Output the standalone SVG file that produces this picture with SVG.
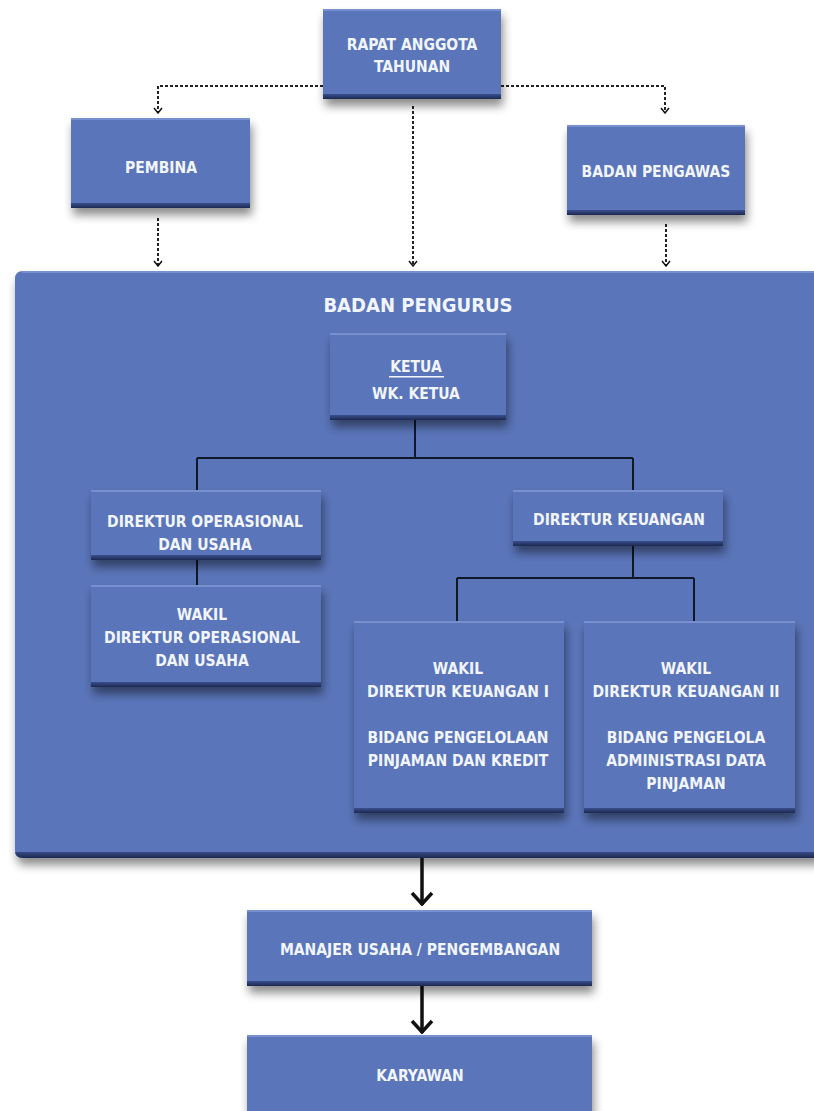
<svg xmlns="http://www.w3.org/2000/svg" width="814" height="1111" viewBox="0 0 814 1111">
<defs>
<filter id="sh" x="-20%" y="-20%" width="140%" height="160%">
<feDropShadow dx="2" dy="7" stdDeviation="5" flood-color="#000" flood-opacity="0.45"/>
</filter>
<linearGradient id="bot" x1="0" y1="0" x2="0" y2="1">
<stop offset="0" stop-color="#3a4f8e"/>
<stop offset="1" stop-color="#1c2850"/>
</linearGradient>
<marker id="ah" viewBox="0 0 10 10" refX="9" refY="5" markerWidth="10" markerHeight="10" markerUnits="userSpaceOnUse" orient="auto">
<path d="M4,1 L9,5 L4,9" fill="none" stroke="#111" stroke-width="1.5"/>
</marker>
<marker id="ahb" viewBox="0 0 16 24" refX="15" refY="12" markerWidth="16" markerHeight="24" markerUnits="userSpaceOnUse" orient="auto">
<path d="M3,2 L14,12 L3,22" fill="none" stroke="#111" stroke-width="3.5"/>
</marker>
</defs>
<style>
.box{fill:#5a75b9;filter:url(#sh)}
.hl{fill:#7790cf}
.bt{fill:url(#bot)}
.t{font-family:"DejaVu Sans Condensed","Liberation Sans Narrow","Liberation Sans",sans-serif;font-weight:bold;font-size:15.5px;fill:#f2f5fc;text-anchor:middle}
.tl{font-size:20px}
.dot{fill:none;stroke:#222;stroke-width:2;stroke-dasharray:3 2}
.ln{fill:none;stroke:#101828;stroke-width:2}
.th{fill:none;stroke:#111;stroke-width:3.5}
</style>
<rect width="814" height="1111" fill="#fff"/>

<g id="connectors">
<path class="dot" d="M323,86 H158 V113" marker-end="url(#ah)"/>
<path class="dot" d="M501,86 H665 V113" marker-end="url(#ah)"/>
<path class="dot" d="M413,106 V266" marker-end="url(#ah)"/>
<path class="dot" d="M158,218 V266" marker-end="url(#ah)"/>
<path class="dot" d="M666,224 V266" marker-end="url(#ah)"/>
</g>

<g id="badan-pengurus">
<path class="box" d="M23,271 H820 V858 H23 Q15,858 15,850 V279 Q15,271 23,271 Z"/>
<rect class="hl" x="22" y="271" width="798" height="2"/>
<path class="bt" d="M15,851 Q15,858 23,858 H820 V852 H15 Z"/>
<text class="t tl" x="418" y="312">BADAN PENGURUS</text>
</g>

<g id="connectors-inner">
<path class="ln" d="M415,420 V458 M197,458 H633 M197,458 V492 M633,458 V492"/>
<path class="ln" d="M197,560 V586"/>
<path class="ln" d="M633,546 V578 M457,578 H694 M457,578 V622 M694,578 V622"/>
<path class="th" d="M422,858 V905" marker-end="url(#ahb)"/>
<path class="th" d="M422,986 V1033" marker-end="url(#ahb)"/>
</g>

<g id="rapat">
<rect class="box" x="323" y="9" width="178" height="90"/>
<rect class="hl" x="323" y="9" width="178" height="2"/>
<rect class="bt" x="323" y="94" width="178" height="5"/>
<text class="t" x="412" y="50">RAPAT ANGGOTA</text>
<text class="t" x="412" y="72">TAHUNAN</text>
</g>

<g id="pembina">
<rect class="box" x="71" y="118" width="179" height="90"/>
<rect class="hl" x="71" y="118" width="179" height="2"/>
<rect class="bt" x="71" y="203" width="179" height="5"/>
<text class="t" x="161" y="173">PEMBINA</text>
</g>

<g id="badan-pengawas">
<rect class="box" x="567" y="125" width="178" height="90"/>
<rect class="hl" x="567" y="125" width="178" height="2"/>
<rect class="bt" x="567" y="210" width="178" height="5"/>
<text class="t" x="656" y="177">BADAN PENGAWAS</text>
</g>

<g id="ketua">
<rect class="box" x="330" y="333" width="176" height="87"/>
<rect class="hl" x="330" y="333" width="176" height="2"/>
<rect class="bt" x="330" y="415" width="176" height="5"/>
<text class="t" x="416" y="372">KETUA</text>
<rect x="389" y="376" width="55" height="1.5" fill="#f2f5fc"/>
<text class="t" x="416" y="399">WK. KETUA</text>
</g>

<g id="dir-operasional">
<rect class="box" x="91" y="490" width="230" height="70"/>
<rect class="hl" x="91" y="490" width="230" height="2"/>
<rect class="bt" x="91" y="555" width="230" height="5"/>
<text class="t" x="205" y="527">DIREKTUR OPERASIONAL</text>
<text class="t" x="205" y="550">DAN USAHA</text>
</g>

<g id="dir-keuangan">
<rect class="box" x="513" y="490" width="210" height="56"/>
<rect class="hl" x="513" y="490" width="210" height="2"/>
<rect class="bt" x="513" y="541" width="210" height="5"/>
<text class="t" x="619" y="525">DIREKTUR KEUANGAN</text>
</g>

<g id="wakil-dir-operasional">
<rect class="box" x="91" y="585" width="230" height="102"/>
<rect class="hl" x="91" y="585" width="230" height="2"/>
<rect class="bt" x="91" y="682" width="230" height="5"/>
<text class="t" x="202" y="620">WAKIL</text>
<text class="t" x="202" y="643">DIREKTUR OPERASIONAL</text>
<text class="t" x="202" y="666">DAN USAHA</text>
</g>

<g id="wakil-dir-keuangan-1">
<rect class="box" x="354" y="621" width="210" height="192"/>
<rect class="hl" x="354" y="621" width="210" height="2"/>
<rect class="bt" x="354" y="808" width="210" height="5"/>
<text class="t" x="458" y="674">WAKIL</text>
<text class="t" x="458" y="697">DIREKTUR KEUANGAN I</text>
<text class="t" x="458" y="743">BIDANG PENGELOLAAN</text>
<text class="t" x="458" y="766">PINJAMAN DAN KREDIT</text>
</g>

<g id="wakil-dir-keuangan-2">
<rect class="box" x="584" y="621" width="211" height="192"/>
<rect class="hl" x="584" y="621" width="211" height="2"/>
<rect class="bt" x="584" y="808" width="211" height="5"/>
<text class="t" x="686" y="674">WAKIL</text>
<text class="t" x="686" y="697">DIREKTUR KEUANGAN II</text>
<text class="t" x="686" y="743">BIDANG PENGELOLA</text>
<text class="t" x="686" y="766">ADMINISTRASI DATA</text>
<text class="t" x="686" y="789">PINJAMAN</text>
</g>

<g id="manajer">
<rect class="box" x="247" y="910" width="345" height="76"/>
<rect class="hl" x="247" y="910" width="345" height="2"/>
<rect class="bt" x="247" y="981" width="345" height="5"/>
<text class="t" x="420" y="955">MANAJER USAHA / PENGEMBANGAN</text>
</g>

<g id="karyawan">
<rect class="box" x="247" y="1035" width="345" height="85"/>
<rect class="hl" x="247" y="1035" width="345" height="2"/>
<text class="t" x="420" y="1081">KARYAWAN</text>
</g>
</svg>
